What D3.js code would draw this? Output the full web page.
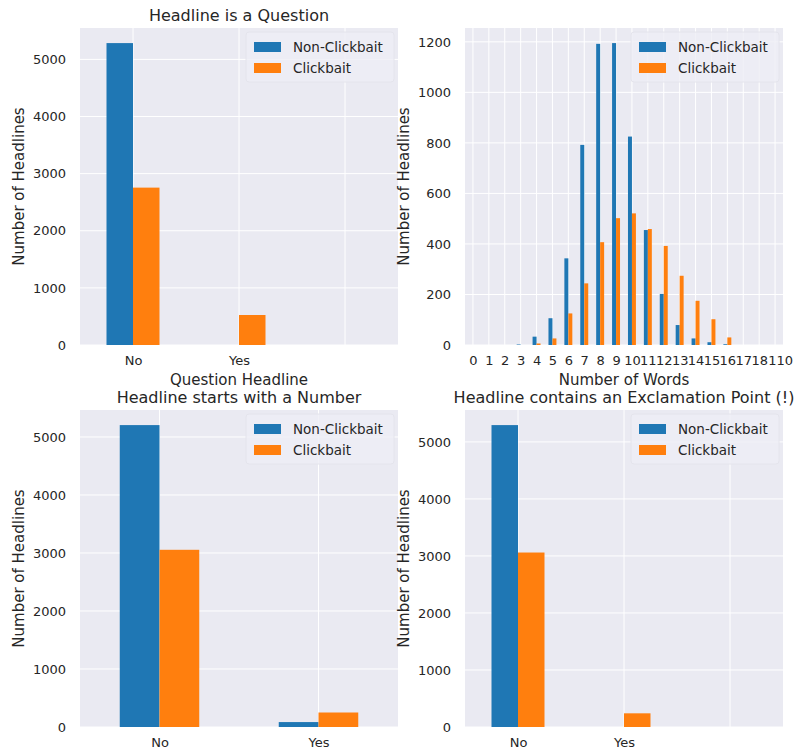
<!DOCTYPE html>
<html>
<head>
<meta charset="utf-8">
<script src="https://cdn.jsdelivr.net/npm/d3@7"></script>
<style>
  html, body { margin: 0; padding: 0; background: #ffffff; }
  svg { display: block; font-family: "DejaVu Sans", sans-serif; }
</style>
</head>
<body>
<svg id="chart" width="797" height="756"></svg>
<script>
// ---------------- DATA ----------------
const seriesNames = ["Non-Clickbait", "Clickbait"];
const seriesColors = ["#1f77b4", "#ff7f0e"];

// Panel 1: Headline is a Question
const questionCats = ["No", "Yes", ""];
const questionNonClickbait = [5285, 0, 0];
const questionClickbait = [2755, 525, 0];
const questionYTicks = [0, 1000, 2000, 3000, 4000, 5000];

// Panel 2: Number of Words
const wordCats = ["0","1","2","3","4","5","6","7","8","9","10","11","12","13","14","15","16","17","18","110"];
const wordNonClickbait = [0, 0, 0, 2, 33, 106, 343, 792, 1192, 1195, 825, 455, 202, 79, 26, 11, 3, 0, 0, 0];
const wordClickbait    = [0, 0, 0, 0, 6, 26, 125, 244, 407, 502, 521, 459, 392, 274, 175, 102, 30, 0, 0, 0];
const wordYTicks = [0, 200, 400, 600, 800, 1000, 1200];

// Panel 3: Headline starts with a Number
const numberCats = ["No", "Yes"];
const numberNonClickbait = [5205, 85];
const numberClickbait = [3055, 250];
const numberYTicks = [0, 1000, 2000, 3000, 4000, 5000];

// Panel 4: Headline contains an Exclamation Point
const exclaimCats = ["No", "Yes", ""];
const exclaimNonClickbait = [5295, 0, 0];
const exclaimClickbait = [3060, 240, 0];
const exclaimYTicks = [0, 1000, 2000, 3000, 4000, 5000];

// ---------------- DRAWING ----------------
const svg = d3.select("#chart");
const textColor = "#262626";
const bgColor = "#EAEAF2";

function drawPanel(cfg) {
  const { left, top, width, height, cats, nc, cb, yTicks, title, xLabel } = cfg;
  const g = svg.append("g").attr("transform", `translate(${left},${top})`);

  const maxVal = d3.max([...nc, ...cb]);
  const y = d3.scaleLinear().domain([0, maxVal * 1.05]).range([height, 0]);
  const x = d3.scaleLinear().domain([-0.5, cats.length - 0.5]).range([0, width]);
  const barW = x(0.25) - x(0);

  // background
  g.append("rect").attr("width", width).attr("height", height).attr("fill", bgColor);

  // horizontal grid
  g.append("g").selectAll("line").data(yTicks).join("line")
    .attr("x1", 0).attr("x2", width)
    .attr("y1", d => y(d)).attr("y2", d => y(d))
    .attr("stroke", "#ffffff").attr("stroke-width", 1);

  // vertical grid
  g.append("g").selectAll("line").data(cats.map((c, i) => i)).join("line")
    .attr("y1", 0).attr("y2", height)
    .attr("x1", d => x(d)).attr("x2", d => x(d))
    .attr("stroke", "#ffffff").attr("stroke-width", 1);

  // bars
  const series = [nc, cb];
  series.forEach((vals, si) => {
    g.append("g").selectAll("rect").data(vals.map((v, i) => ({ v, i }))).join("rect")
      .attr("x", d => x(d.i) - barW + si * barW)
      .attr("width", barW)
      .attr("y", d => y(d.v))
      .attr("height", d => y(0) - y(d.v))
      .attr("fill", seriesColors[si]);
  });

  // y axis
  const yAxis = d3.axisLeft(y).tickValues(yTicks).tickFormat(d3.format("d")).tickSize(0).tickPadding(14);
  const ya = g.append("g").call(yAxis);
  ya.select(".domain").remove();
  ya.selectAll("text").attr("fill", textColor).style("font-size", "13px").style("font-family", "DejaVu Sans, sans-serif");

  // x axis
  const xAxis = d3.axisBottom(x).tickValues(cats.map((c, i) => i))
    .tickFormat(i => cats[i]).tickSize(0).tickPadding(11);
  const xa = g.append("g").attr("transform", `translate(0,${height})`).call(xAxis);
  xa.select(".domain").remove();
  xa.selectAll("text").attr("fill", textColor).style("font-size", "13px").style("font-family", "DejaVu Sans, sans-serif");
  if (cfg.nudgeLast) {
    xa.selectAll(".tick").filter((d, i, n) => i === n.length - 1).select("text").attr("dx", cfg.nudgeLast);
  }

  // y label
  g.append("text")
    .attr("transform", `translate(${cfg.yLabelX - left},${height / 2}) rotate(-90)`)
    .attr("text-anchor", "middle").attr("dominant-baseline", "central")
    .attr("fill", textColor).style("font-size", "15px")
    .text("Number of Headlines");

  if (xLabel) {
    g.append("text")
      .attr("x", width / 2).attr("y", height + 40)
      .attr("text-anchor", "middle").attr("fill", textColor).style("font-size", "15px")
      .text(xLabel);
  }
  if (title) {
    g.append("text")
      .attr("x", width / 2).attr("y", -7)
      .attr("text-anchor", "middle").attr("fill", textColor).style("font-size", "16px")
      .text(title);
  }

  // legend
  const lg = g.append("g");
  const boxRight = width - 4;
  const boxW = 148, boxH = 50;
  lg.append("rect").attr("x", boxRight - boxW).attr("y", 4).attr("width", boxW).attr("height", boxH)
    .attr("rx", 3).attr("fill", "#EEEEF5").attr("fill-opacity", 0.8).attr("stroke", "#E4E4EC");
  seriesNames.forEach((name, i) => {
    const cy = 19 + i * 21;
    lg.append("rect").attr("x", boxRight - boxW + 8).attr("y", cy - 5).attr("width", 27).attr("height", 10)
      .attr("fill", seriesColors[i]);
    lg.append("text").attr("x", boxRight - boxW + 47).attr("y", cy)
      .attr("dominant-baseline", "central").attr("fill", textColor).style("font-size", "13.5px")
      .text(name);
  });
}

drawPanel({ left: 80, top: 28, width: 318, height: 317, cats: questionCats,
  nc: questionNonClickbait, cb: questionClickbait, yTicks: questionYTicks,
  title: "Headline is a Question", xLabel: "Question Headline", yLabelX: 19 });

drawPanel({ left: 465, top: 28, width: 318, height: 317, cats: wordCats,
  nc: wordNonClickbait, cb: wordClickbait, yTicks: wordYTicks,
  title: "", xLabel: "Number of Words", yLabelX: 404, nudgeLast: 5 });

drawPanel({ left: 80, top: 410, width: 318, height: 317, cats: numberCats,
  nc: numberNonClickbait, cb: numberClickbait, yTicks: numberYTicks,
  title: "Headline starts with a Number", xLabel: "", yLabelX: 19 });

drawPanel({ left: 465, top: 410, width: 318, height: 317, cats: exclaimCats,
  nc: exclaimNonClickbait, cb: exclaimClickbait, yTicks: exclaimYTicks,
  title: "Headline contains an Exclamation Point (!)", xLabel: "", yLabelX: 404 });
</script>
</body>
</html>
